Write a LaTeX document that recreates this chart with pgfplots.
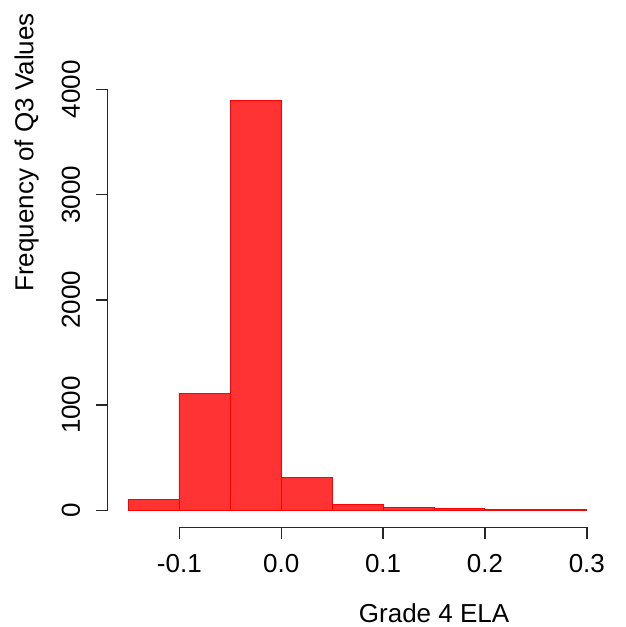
\documentclass[border=0pt]{standalone}
\usepackage{fontspec}
\setmainfont{Liberation Sans}
\usepackage{pgfplots}
\pgfplotsset{compat=1.18}
\begin{document}
\begin{tikzpicture}
\begin{axis}[
  scale only axis, width=497.5pt, height=458.1pt,
  xmin=-0.1703, xmax=0.318, ymin=-161.5, ymax=4191,
  clip=false,
  axis line style={draw=none},
  xtick={-0.1,0,0.1,0.2,0.3}, xticklabels={-0.1,0.0,0.1,0.2,0.3},
  ytick={0,1000,2000,3000,4000}, yticklabels={0,1000,2000,3000,4000},
  xtick pos=lower, ytick pos=left, tick align=outside,
  major tick length=11.5pt,
  tick style={black!85, line width=1.4pt},
  font=\fontsize{26}{31}\selectfont,
  xticklabel style={anchor=base, yshift=-33.2pt},
  yticklabel style={xshift=-16.2pt, rotate=90, anchor=base},
  xlabel={Grade 4 ELA},
  ylabel={Frequency of Q3 Values},
  xlabel style={at={(axis description cs:0.656,-0.2078)}, anchor=base},
  ylabel style={at={(axis description cs:-0.1496,0.8182)}, anchor=base},
]
\addplot[ybar interval, fill=red!80, draw=red, line width=1pt] coordinates {
  (-0.15,105) (-0.10,1110) (-0.05,3890) (0.00,310) (0.05,55)
  (0.10,27) (0.15,19) (0.20,6) (0.25,3) (0.30,3)
};
\draw[black!85, line width=1.4pt] (axis cs:-0.1703,0) -- (axis cs:-0.1703,4000);
\draw[black!85, line width=1.4pt] (axis cs:-0.1,-161.5) -- (axis cs:0.3,-161.5);
\coordinate (sw) at (rel axis cs:0,0);
\end{axis}
\pgfresetboundingbox
\path (sw) ++(-107.7pt,-99.7pt) rectangle ++(625pt,627pt);
\end{tikzpicture}
\end{document}
